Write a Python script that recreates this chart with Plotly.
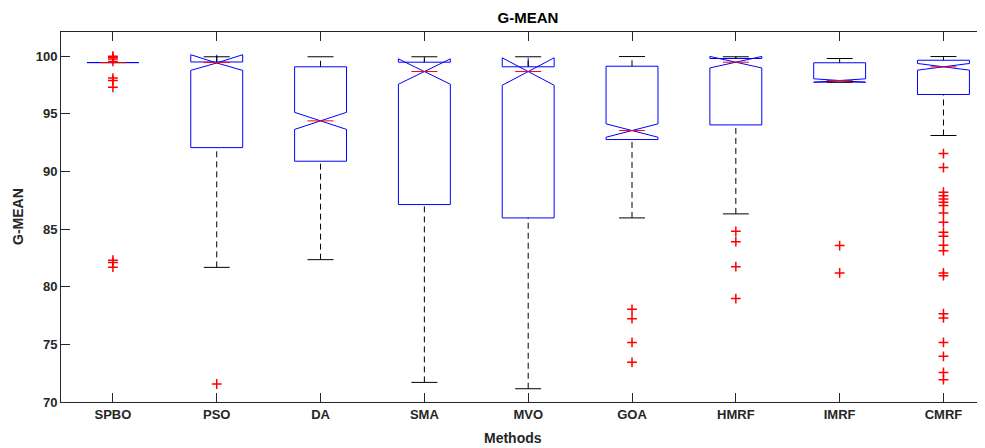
import plotly.graph_objects as go

methods = ['SPBO', 'PSO', 'DA', 'SMA', 'MVO', 'GOA', 'HMRF', 'IMRF', 'CMRF']
q1 = [99.45, 92.07, 90.89, 87.13, 85.97, 92.77, 94.04, 97.75, 96.68]
median = [99.45, 99.45, 94.39, 98.67, 98.67, 93.55, 99.48, 97.89, 99.08]
q3 = [99.45, 99.50, 99.08, 99.48, 99.08, 99.13, 99.80, 99.43, 99.65]
notch = [0.0, 0.68, 0.74, 1.10, 1.19, 0.58, 0.50, 0.15, 0.29]
lower_whisker = [99.45, 81.68, 82.35, 71.70, 71.15, 85.97, 86.32, 97.75, 93.12]
upper_whisker = [99.45, 99.95, 99.95, 99.95, 99.95, 99.97, 99.95, 99.80, 99.97]

out_spbo = [100.0, 99.9, 99.75, 99.55, 98.1, 97.9, 97.3, 82.3, 82.1, 81.7]
out_pso = [71.56]
out_da = []
out_sma = []
out_mvo = []
out_goa = [78.04, 77.23, 75.17, 73.44]
out_hmrf = [84.81, 83.91, 81.74, 78.97]
out_imrf = [83.57, 81.2]
out_cmrf = [91.55, 90.34, 88.2, 87.9, 87.62, 87.33, 87.04, 86.4, 85.59, 84.72,
            84.38, 83.6, 83.13, 81.2, 80.96, 77.66, 77.29, 75.17, 73.96, 72.57, 71.94]
y_ticks = [70, 75, 80, 85, 90, 95, 100]

outliers = [out_spbo, out_pso, out_da, out_sma, out_mvo, out_goa, out_hmrf, out_imrf, out_cmrf]
pos = list(range(1, len(methods) + 1))

FONT = 'Liberation Sans, Arial, Helvetica, sans-serif'
AX = '#262626'
BOXW = 0.5
CAPW = 0.25
MEDW = 0.25

fig = go.Figure()

# whiskers (dashed) and caps
wx, wy, cx, cy = [], [], [], []
for i, p in enumerate(pos):
    if upper_whisker[i] > q3[i]:
        wx += [p, p, None]
        wy += [q3[i], upper_whisker[i], None]
    if lower_whisker[i] < q1[i]:
        wx += [p, p, None]
        wy += [lower_whisker[i], q1[i], None]
    cx += [p - CAPW / 2, p + CAPW / 2, None, p - CAPW / 2, p + CAPW / 2, None]
    cy += [upper_whisker[i], upper_whisker[i], None, lower_whisker[i], lower_whisker[i], None]

fig.add_trace(go.Scatter(x=wx, y=wy, mode='lines',
                         line=dict(color='black', width=1, dash='6px,4px'),
                         hoverinfo='skip', showlegend=False))
fig.add_trace(go.Scatter(x=cx, y=cy, mode='lines',
                         line=dict(color='black', width=1),
                         hoverinfo='skip', showlegend=False))

# notched boxes
fig.add_trace(go.Box(x=pos, q1=q1, median=median, q3=q3,
                     lowerfence=q1, upperfence=q3, notchspan=notch,
                     notched=True, notchwidth=0.5, width=BOXW,
                     line=dict(color='blue', width=1),
                     fillcolor='rgba(0,0,0,0)', boxpoints=False,
                     whiskerwidth=0, hoverinfo='skip', showlegend=False))

# medians (red)
mx, my = [], []
for i, p in enumerate(pos):
    mx += [p - MEDW / 2, p + MEDW / 2, None]
    my += [median[i], median[i], None]
fig.add_trace(go.Scatter(x=mx, y=my, mode='lines',
                         line=dict(color='red', width=1),
                         hoverinfo='skip', showlegend=False))

# outliers
ox, oy = [], []
for i, p in enumerate(pos):
    ox += [p] * len(outliers[i])
    oy += outliers[i]
fig.add_trace(go.Scatter(x=ox, y=oy, mode='markers',
                         marker=dict(symbol='cross-thin', size=7,
                                     line=dict(color='red', width=1.5)),
                         hoverinfo='skip', showlegend=False))

# the page body has an 8px margin: shift everything by -8 px
OFF = 8
W, H = 985 - OFF, 448 - OFF
L, T = 61 - OFF, 32 - OFF
B = H - (402 - OFF)
fig.update_layout(
    width=W, height=H,
    margin=dict(l=L, r=0, t=T, b=B),
    paper_bgcolor='white', plot_bgcolor='white',
    boxmode='overlay',
    font=dict(family=FONT, size=13, color=AX),
    title=dict(text='<b>G-MEAN</b>', x=(528 - OFF) / W, xanchor='center',
               y=1 - (18 - OFF) / H, yanchor='middle',
               font=dict(family=FONT, size=15, color='black')),
    xaxis=dict(range=[0.5, 9.4], tickvals=pos, ticktext=['<b>%s</b>' % m for m in methods],
               ticks='inside', ticklen=9, tickcolor=AX, tickwidth=1,
               showline=True, linecolor=AX, linewidth=1, mirror='ticks',
               showgrid=False, zeroline=False,
               tickfont=dict(family=FONT, size=13, color=AX)),
    yaxis=dict(range=[70, 102.1], tickvals=y_ticks, ticktext=['<b>%d</b>' % v for v in y_ticks],
               ticks='inside', ticklen=9, tickcolor=AX, tickwidth=1,
               showline=True, linecolor=AX, linewidth=1, mirror=False,
               showgrid=False, zeroline=False,
               tickfont=dict(family=FONT, size=13, color=AX)),
    annotations=[
        dict(text='<b>Methods</b>', xref='paper', yref='paper',
             x=(513 - 61) / (W - L), y=-(438 - 402) / (H - T - B),
             xanchor='center', yanchor='middle', showarrow=False,
             font=dict(family=FONT, size=14, color=AX)),
        dict(text='<b>G-MEAN</b>', xref='paper', yref='paper',
             x=-(61 - 18) / (W - L), y=0.5, textangle=-90,
             xanchor='center', yanchor='middle', showarrow=False,
             font=dict(family=FONT, size=14, color=AX)),
    ],
)

fig.write_html('out.html')
